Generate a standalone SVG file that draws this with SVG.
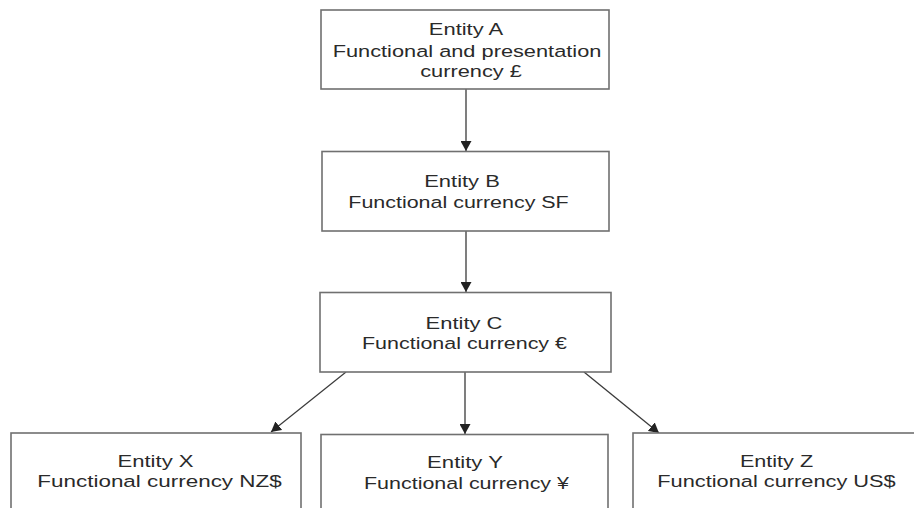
<svg xmlns="http://www.w3.org/2000/svg" width="914" height="508" viewBox="0 0 914 508">
<style>
.box{fill:#ffffff;stroke:#707070;stroke-width:1.6}
.t{font-family:"Liberation Sans",Arial,sans-serif;font-size:16.5px;fill:#2a2a2a;text-anchor:middle}
.c{stroke:#3a3a3a;stroke-width:1.3;fill:none;marker-end:url(#ah)}
</style>
<defs>
<marker id="ah" markerUnits="userSpaceOnUse" markerWidth="10" markerHeight="11" refX="10" refY="5.5" orient="auto" viewBox="0 0 10 11">
<path d="M0,0 L10,5.5 L0,11 z" fill="#222222"/>
</marker>
</defs>
<rect width="914" height="508" fill="#ffffff"/>
<g id="connectors">
<line class="c" x1="466" y1="89" x2="466" y2="151"/>
<line class="c" x1="466" y1="231" x2="466" y2="292"/>
<line class="c" x1="346" y1="372" x2="271" y2="432"/>
<line class="c" x1="465" y1="372" x2="465" y2="434"/>
<line class="c" x1="584" y1="372" x2="659" y2="433"/>
</g>
<g id="entityA">
<rect class="box" x="321" y="10" width="288" height="79"/>
<text class="t" transform="translate(466,35) scale(1.33,1)">Entity A</text>
<text class="t" transform="translate(467,56.5) scale(1.32,1)">Functional and presentation</text>
<text class="t" transform="translate(471,77) scale(1.32,1)">currency £</text>
</g>
<g id="entityB">
<rect class="box" x="322" y="151.5" width="287" height="79.5"/>
<text class="t" transform="translate(462,186.5) scale(1.33,1)">Entity B</text>
<text class="t" transform="translate(458.5,207.5) scale(1.3,1)">Functional currency SF</text>
</g>
<g id="entityC">
<rect class="box" x="320" y="292.5" width="291" height="79.5"/>
<text class="t" transform="translate(464,328.5) scale(1.33,1)">Entity C</text>
<text class="t" transform="translate(464.5,349) scale(1.3,1)">Functional currency €</text>
</g>
<g id="entityX">
<rect class="box" x="11" y="433" width="290" height="90"/>
<text class="t" transform="translate(155.5,467) scale(1.34,1)">Entity X</text>
<text class="t" transform="translate(159.5,487) scale(1.36,1)">Functional currency NZ$</text>
</g>
<g id="entityY">
<rect class="box" x="321" y="434.5" width="287" height="90"/>
<text class="t" transform="translate(465,467.5) scale(1.34,1)">Entity Y</text>
<text class="t" transform="translate(466.5,489) scale(1.3,1)">Functional currency ¥</text>
</g>
<g id="entityZ">
<rect class="box" x="633" y="433" width="290" height="90"/>
<text class="t" transform="translate(776.5,467) scale(1.31,1)">Entity Z</text>
<text class="t" transform="translate(776.5,487) scale(1.32,1)">Functional currency US$</text>
</g>
</svg>
